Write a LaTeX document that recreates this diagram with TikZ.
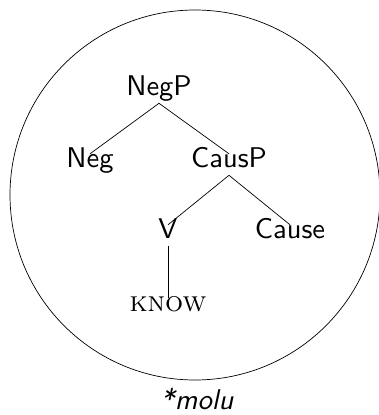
\documentclass[tikz,border=0pt]{standalone}
\usepackage{fontspec}
\setsansfont{lmsans10-regular.otf}[ItalicFont=lmsans10-oblique.otf, BoldFont=lmsans10-bold.otf]
\begin{document}
\begin{tikzpicture}[x=1pt,y=-1pt,
  lbl/.style={font=\fontsize{28.5}{34}\selectfont\sffamily, anchor=base, inner sep=6pt, text height=0.70em, text depth=0.21em},
  lex/.style={font=\fontsize{28.5}{34}\selectfont\rmfamily\scshape, anchor=base, inner sep=6pt, text height=0.70em, text depth=0.21em},
  edge/.style={line width=0.7pt},
  ring/.style={line width=0.7pt}]
\useasboundingbox (0,0) rectangle (379,415);
\node[draw, ring, circle, minimum size=370pt, inner sep=0pt] (ring) at (195,195) {};
\node[lbl] (negp) at (159,95) {NegP};
\node[lbl] (neg) at (90,167) {Neg};
\node[lbl] (causp) at (229,167) {CausP};
\node[lbl] (v) at (168,238) {V};
\node[lbl] (cause) at (290,238) {Cause};
\node[lex] (know) at (168,311) {know};
\node[lbl, font=\fontsize{28.5}{34}\selectfont\sffamily\itshape] (molu) at (197,409) {*molu};
\draw[edge] (negp.south) -- (neg.north);
\draw[edge] (negp.south) -- (causp.north);
\draw[edge] (causp.south) -- (v.north);
\draw[edge] (causp.south) -- (cause.north);
\draw[edge] (v.south) -- (know.north);
\end{tikzpicture}
\end{document}
